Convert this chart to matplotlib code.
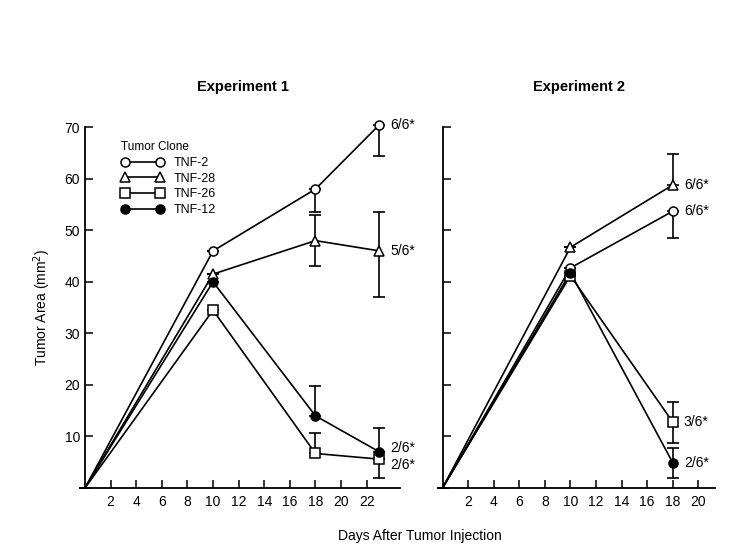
import matplotlib
matplotlib.use("Agg")
import matplotlib.pyplot as plt
from matplotlib.lines import Line2D
import numpy as np

plt.rcParams['font.family'] = ['Liberation Sans', 'DejaVu Sans']

# ---- data: Experiment 1 ----
exp1_days = [0, 10, 18, 23]
exp1_tnf2 = [0, 46, 58, 70.5]
exp1_tnf2_lo = [0, 0, 4.5, 6]
exp1_tnf2_hi = [0, 0, 0, 0]
exp1_tnf28 = [0, 41.5, 48, 46]
exp1_tnf28_lo = [0, 0, 5, 9]
exp1_tnf28_hi = [0, 0, 5, 7.5]
exp1_tnf26 = [0, 34.5, 6.7, 5.6]
exp1_tnf26_lo = [0, 0, 0, 3.6]
exp1_tnf26_hi = [0, 0, 4, 0]
exp1_tnf12 = [0, 40, 14, 7]
exp1_tnf12_lo = [0, 0, 0, 0]
exp1_tnf12_hi = [0, 0, 5.8, 4.6]

# ---- data: Experiment 2 ----
exp2_days = [0, 10, 18]
exp2_tnf2 = [0, 42.7, 53.7]
exp2_tnf2_lo = [0, 0, 5.2]
exp2_tnf2_hi = [0, 0, 0]
exp2_tnf28 = [0, 46.7, 58.8]
exp2_tnf28_lo = [0, 0, 0]
exp2_tnf28_hi = [0, 0, 6]
exp2_tnf26 = [0, 41.2, 12.8]
exp2_tnf26_lo = [0, 0, 4]
exp2_tnf26_hi = [0, 0, 3.8]
exp2_tnf12 = [0, 41.8, 4.9]
exp2_tnf12_lo = [0, 0, 3]
exp2_tnf12_hi = [0, 0, 2.8]

exp1_labels = {"TNF-2": "6/6*", "TNF-28": "5/6*", "TNF-12": "2/6*", "TNF-26": "2/6*"}
exp2_labels = {"TNF-28": "6/6*", "TNF-2": "6/6*", "TNF-26": "3/6*", "TNF-12": "2/6*"}

styles = {
    "TNF-2": dict(marker='o', mfc='white'),
    "TNF-28": dict(marker='^', mfc='white'),
    "TNF-26": dict(marker='s', mfc='white'),
    "TNF-12": dict(marker='o', mfc='black'),
}
MS = 6.5

fig = plt.figure(figsize=(7.5, 5.5), dpi=100)
ax1 = fig.add_axes([0.1133, 0.1127, 0.42, 0.656])
ax2 = fig.add_axes([0.59, 0.1127, 0.3633, 0.656])

def draw(ax, days, series, labels, offsets):
    handles = []
    for name, (vals, lo, hi) in series.items():
        st = styles[name]
        ax.plot(days, vals, color='black', lw=1.2, zorder=3, clip_on=False)
        ax.plot(days[1:], vals[1:], ls='none', marker=st['marker'],
                mfc=st['mfc'], mec='black', ms=MS, mew=1.1, zorder=4, clip_on=False)
        ax.errorbar(days, vals, yerr=[lo, hi], fmt='none', ecolor='black',
                    elinewidth=1.2, capsize=4, capthick=1.2, zorder=2, clip_on=False)
        handles.append(Line2D([], [], color='black', lw=1.2, marker=st['marker'],
                              mfc=st['mfc'], mec='black', ms=MS, mew=1.1, label=name))
        if name in labels:
            ax.annotate(labels[name], (days[-1], vals[-1]), xytext=(8, offsets.get(name, 0)),
                        textcoords='offset points', fontsize=10, va='center', ha='left',
                        annotation_clip=False)
    return handles

h = draw(ax1, exp1_days,
         {"TNF-2": (exp1_tnf2, exp1_tnf2_lo, exp1_tnf2_hi),
          "TNF-28": (exp1_tnf28, exp1_tnf28_lo, exp1_tnf28_hi),
          "TNF-26": (exp1_tnf26, exp1_tnf26_lo, exp1_tnf26_hi),
          "TNF-12": (exp1_tnf12, exp1_tnf12_lo, exp1_tnf12_hi)},
         exp1_labels, {"TNF-12": 3, "TNF-26": -4})
draw(ax2, exp2_days,
     {"TNF-2": (exp2_tnf2, exp2_tnf2_lo, exp2_tnf2_hi),
      "TNF-28": (exp2_tnf28, exp2_tnf28_lo, exp2_tnf28_hi),
      "TNF-26": (exp2_tnf26, exp2_tnf26_lo, exp2_tnf26_hi),
      "TNF-12": (exp2_tnf12, exp2_tnf12_lo, exp2_tnf12_hi)},
     exp2_labels, {})

for ax, xmax, xt in [(ax1, 24.6, np.arange(2, 23, 2)), (ax2, 21.3, np.arange(2, 21, 2))]:
    ax.set_xlim(0, xmax)
    ax.set_ylim(0, 70)
    ax.spines['top'].set_visible(False)
    ax.spines['right'].set_visible(False)
    ax.spines['left'].set_linewidth(1.3)
    ax.spines['bottom'].set_linewidth(1.3)
    ax.set_xticks(xt)
    ax.set_yticks(np.arange(10, 71, 10))
    ax.tick_params(direction='in', length=6, width=1.1, labelsize=10)
    ax.tick_params(axis='x', pad=5)

ax2.set_yticklabels([])

ax1.set_title("Experiment 1", fontsize=10.5, fontweight='bold', pad=26)
ax2.set_title("Experiment 2", fontsize=10.5, fontweight='bold', pad=26)
ax1.set_ylabel("Tumor Area (mm$^2$)", fontsize=10, labelpad=8)
fig.text(0.56, 0.018, "Days After Tumor Injection", fontsize=10, ha='center')

leg = ax1.legend(handles=h, title="Tumor Clone", frameon=False, fontsize=9,
                 title_fontsize=8.5, loc='upper left', bbox_to_anchor=(0.1, 0.975),
                 handlelength=3.4, handletextpad=0.8, labelspacing=0.3, numpoints=2,
                 borderaxespad=0, alignment='left')

fig.savefig("out.png", dpi=100)
